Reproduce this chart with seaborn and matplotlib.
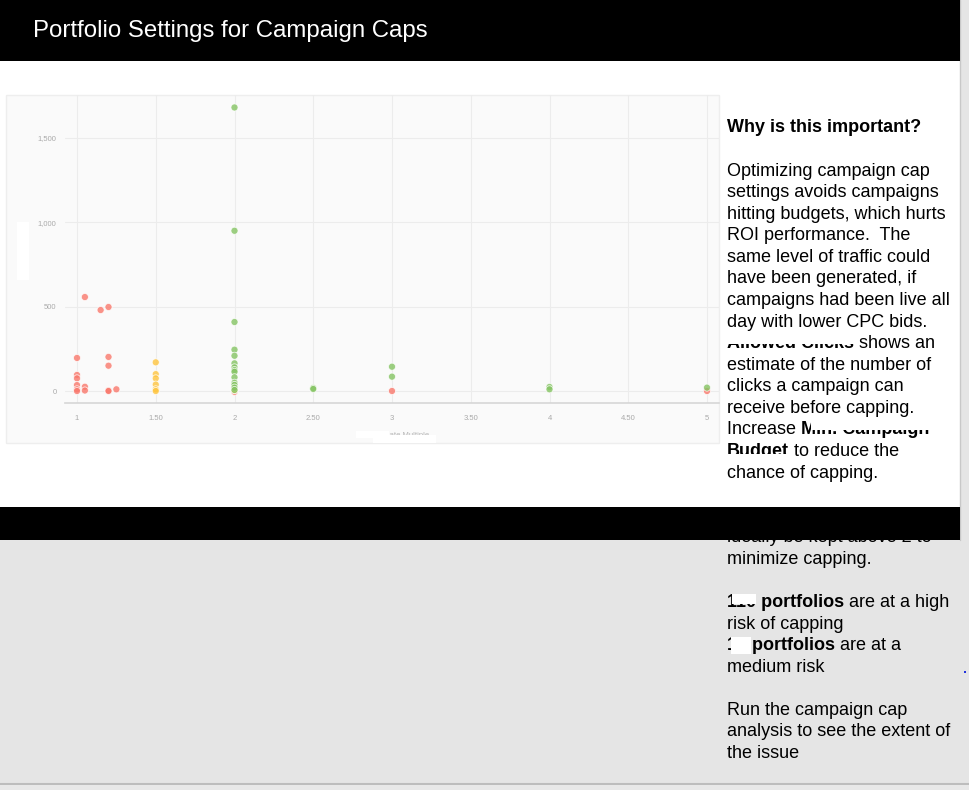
import matplotlib
matplotlib.use("Agg")
import matplotlib.pyplot as plt
from matplotlib.patches import Rectangle
from matplotlib.ticker import FixedLocator, FixedFormatter
import pandas as pd
import seaborn as sns

# --- data ---
title = "Portfolio Settings for Campaign Caps"

high_x = [1, 1, 1, 1, 1, 1, 1.05, 1.05, 1.05, 1.15, 1.2, 1.2, 1.2, 1.2, 1.2, 1.25, 2, 3, 5]
high_y = [196, 95, 75, 35, 10, 0, 557, 25, 3, 480, 498, 202, 150, 3, 0, 10, -5, 0, 0]

medium_x = [1.5, 1.5, 1.5, 1.5, 1.5, 1.5, 2]
medium_y = [170, 100, 75, 38, 10, 0, 5]

low_x = [2] * 14 + [2.5, 2.5, 3, 3, 4, 4, 5]
low_y = [1681, 950, 409, 245, 209, 164, 140, 124, 114, 81, 49, 36, 20, 6,
         18, 12, 144, 85, 24, 10, 20]

x_ticks = [1, 1.5, 2, 2.5, 3, 3.5, 4, 4.5, 5]
x_tick_labels = ["1", "1.50", "2", "2.50", "3", "3.50", "4", "4.50", "5"]
y_ticks = [0, 500, 1000, 1500]
y_tick_labels = ["0", "500", "1,000", "1,500"]

risk_colors = {"High": "#f9786c", "Medium": "#ffc53f", "Low": "#85c463"}

# side panel text, one entry per line: list of (text, bold)
side_lines = [
    [("Why is this important?", True)],
    [],
    [("Optimizing campaign cap", False)],
    [("settings avoids campaigns", False)],
    [("hitting budgets, which hurts", False)],
    [("ROI performance.  The", False)],
    [("same level of traffic could", False)],
    [("have been generated, if", False)],
    [("campaigns had been live all", False)],
    [("day with lower CPC bids.", False)],
    [("Allowed Clicks", True), (" shows an", False)],
    [("estimate of the number of", False)],
    [("clicks a campaign can", False)],
    [("receive before capping.", False)],
    [("Increase ", False), ("Min. Campaign", True)],
    [("Budget", True), (" to reduce the", False)],
    [("chance of capping.", False)],
    [],
    [("Cap Multiple", True), (" should", False)],
    [("ideally be kept above 2 to", False)],
    [("minimize capping.", False)],
    [],
    [("110 portfolios", True), (" are at a high", False)],
    [("risk of capping", False)],
    [("14 portfolios", True), (" are at a", False)],
    [("medium risk", False)],
    [],
    [("Run the campaign cap", False)],
    [("analysis to see the extent of", False)],
    [("the issue", False)],
]

df = pd.DataFrame({
    "multiple": high_x + medium_x + low_x,
    "clicks": high_y + medium_y + low_y,
    "risk": ["High"] * len(high_x) + ["Medium"] * len(medium_x) + ["Low"] * len(low_x),
})

sns.set_theme(style="white")
plt.rcParams["font.family"] = ["Liberation Sans", "DejaVu Sans"]

W, H = 969, 790
fig = plt.figure(figsize=(W / 100, H / 100), dpi=100)
fig.patch.set_facecolor("#e5e5e5")

# page layer in pixel coordinates
bg = fig.add_axes([0, 0, 1, 1], zorder=0)
bg.set_xlim(0, W)
bg.set_ylim(H, 0)
bg.axis("off")

bg.add_patch(Rectangle((0, 61), 960, 446, facecolor="white", edgecolor="none", zorder=1))
bg.plot([960.5, 960.5], [0, 540], color="#c8c8c8", lw=1, zorder=1)
bg.plot([0, W], [784, 784], color="#bdbdbd", lw=1.5, zorder=1)
bg.add_patch(Rectangle((0, 785), W, 5, facecolor="#e8e8e8", edgecolor="none", zorder=1))
bg.add_patch(Rectangle((0, 0), 960, 61, facecolor="black", edgecolor="none", zorder=10))
bg.text(33, 31, title, color="white", fontsize=17.3, va="center", ha="left", zorder=11)

# chart container
bg.add_patch(Rectangle((6, 95), 713, 348, facecolor="#fafafa", edgecolor="#eeeeee",
                       lw=1, zorder=2))

# x axis title, partly redacted
bg.text(429, 435.5, "Cap Rate Multiple", color="#b5b5b5", fontsize=5.5,
        ha="right", va="center", zorder=3)
bg.add_patch(Rectangle((356, 431), 33, 7, facecolor="white", edgecolor="none", zorder=4))
bg.add_patch(Rectangle((373, 434.5), 63, 8.5, facecolor="white", edgecolor="none", zorder=4))
# y axis title redaction
bg.add_patch(Rectangle((17, 222), 12, 58, facecolor="white", edgecolor="none", zorder=4))

# scatter plot
L, R, T, B = 65, 719, 95, 403
ax = fig.add_axes([L / W, (H - B) / H, (R - L) / W, (B - T) / H], zorder=2)
ax.set_facecolor("none")
sns.scatterplot(data=df, x="multiple", y="clicks", hue="risk", palette=risk_colors,
                s=26, alpha=0.8, edgecolor="white", linewidth=0.6, legend=False, ax=ax)
ax.set_xlim(1 - 12 / 157.5, 5 + 12 / 157.5)
ax.set_ylim(-12 / 0.16867, 296 / 0.16867)
ax.xaxis.set_major_locator(FixedLocator(x_ticks))
ax.xaxis.set_major_formatter(FixedFormatter(x_tick_labels))
ax.yaxis.set_major_locator(FixedLocator(y_ticks))
ax.yaxis.set_major_formatter(FixedFormatter(y_tick_labels))
ax.grid(True, color="#ececec", lw=0.8)
ax.set_axisbelow(True)
ax.tick_params(axis="both", length=0, labelsize=5.5, labelcolor="#aaaaaa")
ax.tick_params(axis="x", pad=9)
ax.tick_params(axis="y", pad=6)
ax.set_xlabel("")
ax.set_ylabel("")
for side in ["top", "right", "left"]:
    ax.spines[side].set_visible(False)
ax.spines["bottom"].set_color("#d6d6d6")
ax.spines["bottom"].set_linewidth(1.2)

# side text
line_h = 21.57
bold_parts = {}
for i, segments in enumerate(side_lines):
    y = 128 + i * line_h
    prev = None
    for txt, bold in segments:
        kw = dict(fontsize=12.95, color="#000000", zorder=5,
                  fontweight="bold" if bold else "normal")
        if prev is None:
            prev = bg.text(727, y, txt, ha="left", va="center", **kw)
        else:
            prev = bg.annotate(txt, xy=(1, 0), xycoords=prev, ha="left", va="bottom", **kw)
        if bold:
            bold_parts[(i, txt)] = prev

# band over the overflowing text
bg.add_patch(Rectangle((0, 507), 960, 33, facecolor="black", edgecolor="none", zorder=10))
bg.add_patch(Rectangle((964, 671), 2, 2, facecolor="#2233dd", edgecolor="none", zorder=10))

# rendering glitches and redactions seen on the bold words
fig.canvas.draw()
inv = bg.transData.inverted()


def cover(key, top_frac, bot_frac, x0_frac=0.0, x1_frac=1.0):
    bb = bold_parts[key].get_window_extent()
    (x0, y0), (x1, y1) = inv.transform([(bb.x0, bb.y0), (bb.x1, bb.y1)])
    top, bot = min(y0, y1), max(y0, y1)
    h = bot - top
    w = x1 - x0
    bg.add_patch(Rectangle((x0 + x0_frac * w, top + top_frac * h),
                           (x1_frac - x0_frac) * w, (bot_frac - top_frac) * h,
                           facecolor="white", edgecolor="none", zorder=6))


cover((10, "Allowed Clicks"), 0.0, 0.5)
cover((14, "Min. Campaign"), 0.0, 0.52, 0.08, 1.0)
cover((15, "Budget"), 0.66, 1.0)
cover((22, "110 portfolios"), 0.0, 0.6, 0.04, 0.25)
cover((24, "14 portfolios"), 0.0, 1.0, 0.04, 0.22)

fig.savefig("out.png", dpi=100, facecolor=fig.get_facecolor())
